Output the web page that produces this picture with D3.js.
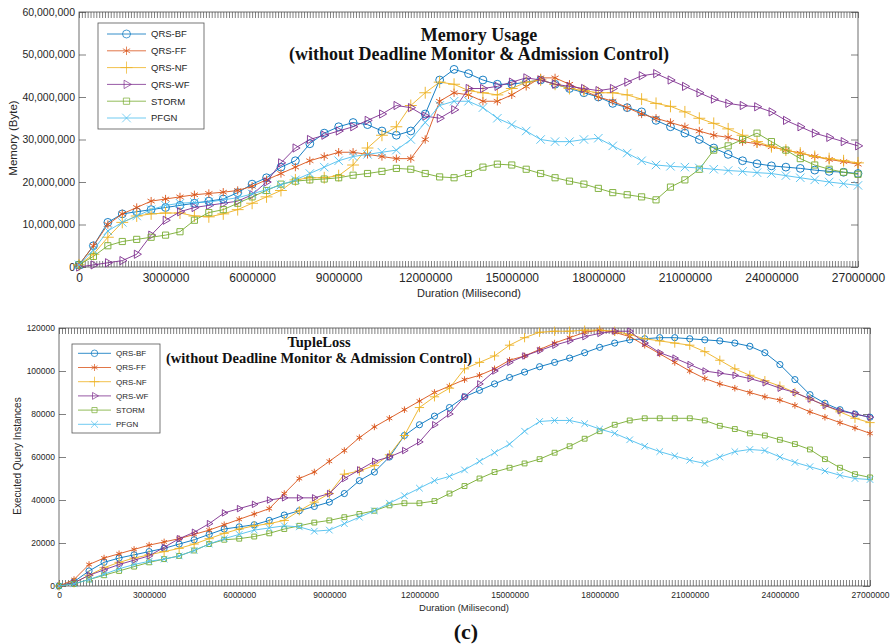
<!DOCTYPE html>
<html lang="en">
<head>
<meta charset="UTF-8">
<title>Memory Usage / TupleLoss</title>
<script src="https://d3js.org/d3.v7.min.js"></script>
<style>
  body { margin: 0; background: #fff; }
  .tick text { font-family: "Liberation Sans", Arial, sans-serif; fill: #262626; }
  .tick line { stroke: #4a4a4a; stroke-width: 0.7; }
  .title { font-family: "Liberation Serif", "Times New Roman", serif; font-weight: bold; text-anchor: middle; fill: #111; }
  .axis-label { font-family: "Liberation Sans", Arial, sans-serif; text-anchor: middle; fill: #262626; }
  .legend-text { font-family: "Liberation Sans", Arial, sans-serif; fill: #262626; }
</style>
</head>
<body>
<svg class="chart"></svg>
<script>
const svgW = 892, svgH = 644;

// series
const seriesNames = ["QRS-BF", "QRS-FF", "QRS-NF", "QRS-WF", "STORM", "PFGN"];
const seriesColors = ["#0072BD", "#D95319", "#EDB120", "#7E2F8E", "#77AC30", "#4DBEEE"];

// duration, millions of ms
const durationM = [0, 0.5, 1, 1.5, 2, 2.5, 3, 3.5, 4, 4.5, 5, 5.5, 6, 6.5, 7, 7.5, 8, 8.5, 9, 9.5,
  10, 10.5, 11, 11.5, 12, 12.5, 13, 13.5, 14, 14.5, 15, 15.5, 16, 16.5, 17, 17.5, 18, 18.5, 19, 19.5,
  20, 20.5, 21, 21.5, 22, 22.5, 23, 23.5, 24, 24.5, 25, 25.5, 26, 26.5, 27];

// memory usage, millions of bytes
const memBF = [0.5,5,10.5,12.5,13,13.5,14,14.5,15,15.5, 16,17.5,19.5,21,23.5,25,29,31.5,33,34,
  33.5,32,31,32,36,44,46.5,45.5,44,43, 43,43.5,44,43,42,41,40,38.5,37.5,36.5,
  34.5,33,31.5,30,28,26.5,25,24.3,23.8,23.5, 23.2,22.8,22.5,22.3,22];
const memFF = [0.5,5,10,12.5,14,15.5,16,16.5,17,17.3, 17.6,18,19,20.5,22,23.5,25,26,27,27,
  26.5,26,25.5,25.5,30,39,41,40.5,39,39, 40.5,42.5,44.5,44.5,43,41.5,40,39,37.5,36,
  35,34,33,32,31,30.5,29.5,29,28.3,27.5, 26.8,26,25.3,24.8,24.2];
const memNF = [0.5,3,7,10.5,12,12.5,12.7,12.7,12,11.8, 12.5,13.5,15,16.5,18,20.5,21,21,21.5,24,
  28,31,33,38,41,43.5,43,41.5,41,40.5, 42,43.5,44,43,42,41.5,41,41,40.5,39.5,
  38.5,37.8,36.5,35,33.8,32.5,31,29.5,28.3,27.5, 26.8,26,25.5,25,24.5];
const memWF = [0,0.5,1,1.5,3,7.5,11,13,14,14.5, 15,15.5,17,20,24.5,28,30,31,32,33,
  34.5,36,38,37.5,35.5,35,37,42,42,42.5, 43.5,44.5,44,43,42.5,42,41.5,42,43.5,45,
  45.5,44,42.5,41,39.5,38.5,38,37.7,36.5,34.5, 33,31.5,30.5,29.5,28.5];
const memST = [0.5,2.5,5,6,6.5,7,7.5,8.3,11,12.8, 13.5,15,16.5,18,19.5,20.2,20.5,20.7,21,21.6,
  22,22.5,23.2,23,22,21.2,21,22,23.5,24.2, 24,23,22,21,20.2,19.5,18.5,17.5,17,16.5,
  15.8,18.8,20.5,23,27.5,28.5,30,31.5,29.5,27.5, 25.5,24,23,22.3,21.8];
const memPF = [0.5,4,8.5,10.5,12,13.5,14.5,15,15.2,15.3, 15.8,16.3,17.2,18.2,19.3,20.5,22,23.5,25,26,
  26.5,27,27.5,30,34,38,39,39,37.5,35, 33.5,32,30,29.5,29.5,30,30.3,28.5,26.8,25,
  24,23.7,23.5,23.3,23,22.7,22.5,22.2,22,21.5, 21,20.5,20,19.6,19.2];

// executed query instances, thousands
const tupBF = [0,2,7,11,13,14.5,16,17.5,19.5,21.5, 24,26.5,27.5,28.5,30.5,33,35,37,39,43,
  49,53,60,70,75,79,83,88,91,94, 97,99.5,102,104,106,108.5,111,113,114.5,115,
  115.5,115.5,115,114.5,114,113,111.5,108.5,103,96, 89,85,82,80,78.5];
const tupFF = [0,3,10,13,15,17,19,20.5,22,24, 26,28.5,31,33.5,36,43,50,53,58,63,
  69,74,78,82,86,90,93,96,98,101, 105,107,110,113,115.5,118,119,118,116,112,
  108,104,100,96.5,94,92,90,88,86.5,84, 81,78.5,76,73.5,71];
const tupNF = [0,1.5,5,8.5,11,13,14.5,16,17.5,19.5, 22,24.5,26.5,28,29,30.5,35,39,43,52,
  53.5,56,61,70,83,88,92,101,104,107, 112,115.5,118,118.5,118.5,119,119,118.5,117,115,
  114,113,112,109,105,101,98,95.5,93,90, 87,84,81,78,76];
const tupWF = [0,1.5,5,7.5,10,12,14,18,22,25, 29,34,36,38,40,41,41,41,43,50,
  54,58,60,63,67,75,80,88,94,100, 104,107,109.5,112,114,116,117.5,118.5,118.5,113,
  108.5,106,103,100,99,98,96.5,94.5,92,90, 87,84,81.5,80,78.5];
const tupST = [0,1,3,5,7,9,11,12.5,14,16.5, 19.5,21.5,22,23,24.5,26.5,28,29.5,30.5,32,
  33.5,35,37.5,38.5,38.5,39.5,43,46.5,50,53, 55,57,59,62,65,68.5,72,75,77,78,
  78,78,78,77,74.5,73,71,70,68,66, 63.5,59,55,52,50.5];
const tupPF = [0,1,3,5.5,8,10,11.5,12.5,14,16.5, 19.5,22,24,26,27,28,27.5,25.5,26,29,
  32,35,38.5,42,45.5,49,51,54,58,62, 66,72,76.5,77,77,75.5,73,71,68,65,
  62.5,60.5,58.5,57,60,62.5,63.5,63,60,57.5, 55.5,53.5,51.5,50,49.5];

const durationMs = durationM.map(t => t * 1e6);
const memSeries = [memBF, memFF, memNF, memWF, memST, memPF].map(a => a.map(v => v * 1e6));
const tupSeries = [tupBF, tupFF, tupNF, tupWF, tupST, tupPF].map(a => a.map(v => v * 1e3));

// marker shapes (circle, asterisk, plus, right triangle, square, x)
const seriesSymbols = [
  d3.symbolCircle,
  d3.symbolAsterisk || d3.symbolCross,
  d3.symbolPlus || d3.symbolCross,
  d3.symbolTriangle2 || d3.symbolTriangle,
  d3.symbolSquare2 || d3.symbolSquare,
  d3.symbolX || d3.symbolCross
];
const symbolRotate = [0, 0, 0, 90, 0, 0];

const svg = d3.select(".chart")
  .attr("viewBox", `0 0 ${svgW} ${svgH}`)
  .attr("width", svgW)
  .attr("height", svgH);

function drawPanel(p) {
  const x = d3.scaleLinear().domain([0, 27000000]).range([p.left, p.right]);
  const y = d3.scaleLinear().domain([0, p.yMax]).range([p.bottom, p.top]);
  const g = svg.append("g");

  const xTicks = d3.range(0, 27000001, 100000);
  const yTicks = d3.range(0, p.yMax + 1, p.yStep);

  // axes (ticks inward, MATLAB box style)
  g.append("g")
    .attr("transform", `translate(0,${p.bottom})`)
    .call(d3.axisBottom(x).tickValues(xTicks).tickSizeInner(-6).tickSizeOuter(0)
      .tickPadding(p.xPad).tickFormat(d => d % 3000000 === 0 ? d : ""))
    .call(a => a.select(".domain").remove())
    .selectAll("text").style("font-size", p.xFont + "px");
  g.append("g")
    .attr("transform", `translate(0,${p.top})`)
    .call(d3.axisTop(x).tickValues(xTicks).tickSizeInner(-6).tickSizeOuter(0).tickFormat(""))
    .call(a => a.select(".domain").remove());
  g.append("g")
    .attr("transform", `translate(${p.left},0)`)
    .call(d3.axisLeft(y).tickValues(yTicks).tickSizeInner(-7).tickSizeOuter(0)
      .tickPadding(4).tickFormat(p.yFormat))
    .call(a => a.select(".domain").remove())
    .selectAll("text").style("font-size", p.yFont + "px");
  g.append("g")
    .attr("transform", `translate(${p.right},0)`)
    .call(d3.axisRight(y).tickValues(yTicks).tickSizeInner(-7).tickSizeOuter(0).tickFormat(""))
    .call(a => a.select(".domain").remove());

  g.append("rect")
    .attr("x", p.left).attr("y", p.top)
    .attr("width", p.right - p.left).attr("height", p.bottom - p.top)
    .attr("fill", "none").attr("stroke", "#4a4a4a").attr("stroke-width", 0.8);

  // lines + markers
  const line = d3.line().x((d, i) => x(durationMs[i])).y(d => y(d));
  p.series.forEach((vals, k) => {
    g.append("path")
      .datum(vals)
      .attr("d", line)
      .attr("fill", "none")
      .attr("stroke", seriesColors[k])
      .attr("stroke-width", 0.9);
    g.append("g").selectAll("path")
      .data(vals)
      .join("path")
      .attr("transform", (d, i) => `translate(${x(durationMs[i])},${y(d)}) rotate(${symbolRotate[k]})`)
      .attr("d", d3.symbol().type(seriesSymbols[k]).size(p.markerSize))
      .attr("fill", "none")
      .attr("stroke", seriesColors[k])
      .attr("stroke-width", 0.9);
  });

  // titles
  p.title.forEach((t, i) => {
    g.append("text").attr("class", "title")
      .attr("x", p.titleX).attr("y", p.titleY[i])
      .style("font-size", p.titleFont + "px")
      .text(t);
  });

  // axis labels
  g.append("text").attr("class", "axis-label")
    .attr("x", p.xLabelPos[0]).attr("y", p.xLabelPos[1]).attr("dy", "0.35em")
    .style("font-size", p.labelFont + "px")
    .text("Duration (Milisecond)");
  g.append("text").attr("class", "axis-label")
    .attr("transform", `translate(${p.yLabelPos[0]},${p.yLabelPos[1]}) rotate(-90)`)
    .attr("dy", "0.35em")
    .style("font-size", p.yLabelFont + "px")
    .text(p.yLabel);

  // legend
  const L = p.legend;
  const lg = g.append("g");
  lg.append("rect")
    .attr("x", L.x0).attr("y", L.y0)
    .attr("width", L.x1 - L.x0).attr("height", L.y1 - L.y0)
    .attr("fill", "#fff").attr("stroke", "#555").attr("stroke-width", 0.8);
  seriesNames.forEach((name, k) => {
    const yy = L.first + k * L.step;
    lg.append("line")
      .attr("x1", L.lineX[0]).attr("x2", L.lineX[1])
      .attr("y1", yy).attr("y2", yy)
      .attr("stroke", seriesColors[k]).attr("stroke-width", 0.8);
    lg.append("path")
      .attr("transform", `translate(${(L.lineX[0] + L.lineX[1]) / 2},${yy}) rotate(${symbolRotate[k]})`)
      .attr("d", d3.symbol().type(seriesSymbols[k]).size(L.markerSize))
      .attr("fill", "none").attr("stroke", seriesColors[k]).attr("stroke-width", 0.7);
    lg.append("text").attr("class", "legend-text")
      .attr("x", L.textX).attr("y", yy).attr("dy", "0.35em")
      .style("font-size", L.font + "px")
      .text(name);
  });
}

drawPanel({
  left: 79, right: 858, top: 12, bottom: 267,
  yMax: 60000000, yStep: 10000000, yFormat: d3.format(","),
  xFont: 12, yFont: 10.5, xPad: 6,
  series: memSeries, markerSize: 48,
  title: ["Memory Usage", "(without Deadline Monitor & Admission Control)"],
  titleX: 479, titleY: [41, 60], titleFont: 18,
  xLabelPos: [469, 293], labelFont: 11,
  yLabel: "Memory (Byte)", yLabelPos: [13, 138], yLabelFont: 11.5,
  legend: { x0: 98, y0: 23, x1: 204, y1: 129, first: 34, step: 16.8,
    lineX: [107, 146], textX: 151, font: 9.5, markerSize: 50 }
});

drawPanel({
  left: 59, right: 870, top: 328, bottom: 586,
  yMax: 120000, yStep: 20000, yFormat: d3.format("d"),
  xFont: 8.5, yFont: 8.5, xPad: 6,
  series: tupSeries, markerSize: 30,
  title: ["TupleLoss", "(without Deadline Monitor & Admission Control)"],
  titleX: 319, titleY: [347, 363], titleFont: 14.5,
  xLabelPos: [464, 608], labelFont: 9.5,
  yLabel: "Executed Query Instances", yLabelPos: [17, 456], yLabelFont: 10,
  legend: { x0: 72, y0: 344, x1: 160, y1: 433, first: 353.3, step: 14.2,
    lineX: [78, 111], textX: 116, font: 8, markerSize: 34 }
});

svg.append("text").attr("class", "title")
  .attr("x", 466).attr("y", 639)
  .style("font-size", "22px")
  .text("(c)");
</script>
</body>
</html>
